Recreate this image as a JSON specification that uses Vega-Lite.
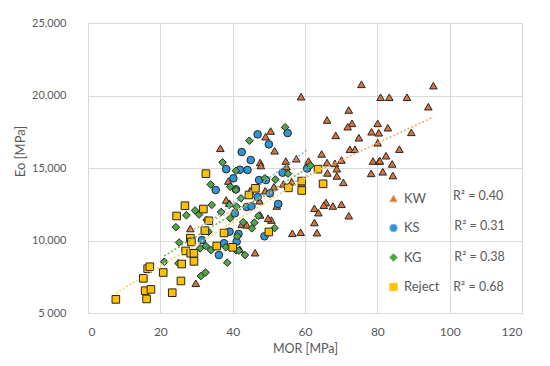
{
  "$schema": "https://vega.github.io/schema/vega-lite/v6.json",
  "width": 434,
  "height": 290,
  "autosize": {"type": "none"},
  "padding": {"left": 88, "top": 23, "right": 28, "bottom": 53},
  "background": "white",
  "config": {
    "font": "Lato",
    "view": {"stroke": "#D9D9D9"},
    "axis": {
      "gridColor": "#D9D9D9",
      "domain": false,
      "ticks": false,
      "labelColor": "#595959",
      "titleColor": "#595959",
      "titleFontWeight": "normal",
      "labelFont": "Lato",
      "titleFont": "Lato"
    }
  },
  "datasets": {
    "pts": [
      {"s":"KW","x":75.6,"y":20770},{"s":"KW","x":95.5,"y":20680},{"s":"KW","x":58.9,"y":19920},{"s":"KW","x":80.9,"y":19880},
      {"s":"KW","x":83.3,"y":19880},{"s":"KW","x":88.2,"y":19880},{"s":"KW","x":94.1,"y":19230},{"s":"KW","x":72.1,"y":19000},
      {"s":"KW","x":66.1,"y":18310},{"s":"KW","x":73.0,"y":18080},{"s":"KW","x":71.8,"y":17850},{"s":"KW","x":80.1,"y":18080},
      {"s":"KW","x":82.9,"y":17780},{"s":"KW","x":78.4,"y":17500},{"s":"KW","x":80.4,"y":17430},{"s":"KW","x":68.5,"y":17250},
      {"s":"KW","x":74.9,"y":17090},{"s":"KW","x":80.1,"y":16740},{"s":"KW","x":89.4,"y":17460},{"s":"KW","x":50.5,"y":17550},
      {"s":"KW","x":49.1,"y":17160},{"s":"KW","x":51.6,"y":16190},{"s":"KW","x":72.4,"y":16290},{"s":"KW","x":73.8,"y":16290},
      {"s":"KW","x":86.1,"y":16300},{"s":"KW","x":82.4,"y":15850},{"s":"KW","x":57.6,"y":15640},{"s":"KW","x":61.0,"y":15480},
      {"s":"KW","x":64.6,"y":15970},{"s":"KW","x":78.8,"y":15480},{"s":"KW","x":80.5,"y":15480},{"s":"KW","x":84.1,"y":15280},
      {"s":"KW","x":66.1,"y":15370},{"s":"KW","x":68.3,"y":15320},{"s":"KW","x":70.1,"y":15550},{"s":"KW","x":68.8,"y":14950},
      {"s":"KW","x":66.2,"y":14660},{"s":"KW","x":78.3,"y":14630},{"s":"KW","x":81.5,"y":14740},{"s":"KW","x":84.3,"y":14480},
      {"s":"KW","x":68.8,"y":14450},{"s":"KW","x":70.6,"y":14010},{"s":"KW","x":54.7,"y":15480},{"s":"KW","x":54.9,"y":15090},
      {"s":"KW","x":59.1,"y":13920},{"s":"KW","x":56.3,"y":14050},{"s":"KW","x":51.4,"y":13710},{"s":"KW","x":49.0,"y":13430},
      {"s":"KW","x":54.0,"y":13900},{"s":"KW","x":80.7,"y":15500},{"s":"KW","x":65.8,"y":12620},{"s":"KW","x":62.6,"y":12220},
      {"s":"KW","x":63.7,"y":11920},{"s":"KW","x":65.2,"y":12430},{"s":"KW","x":67.7,"y":12380},{"s":"KW","x":70.1,"y":12500},
      {"s":"KW","x":72.1,"y":11710},{"s":"KW","x":62.6,"y":11240},{"s":"KW","x":50.7,"y":11410},{"s":"KW","x":56.5,"y":10500},
      {"s":"KW","x":58.8,"y":10570},{"s":"KW","x":63.3,"y":10540},{"s":"KW","x":42.5,"y":11120},{"s":"KW","x":43.9,"y":11080},
      {"s":"KW","x":42.0,"y":9390},{"s":"KW","x":46.2,"y":9160},{"s":"KW","x":36.6,"y":16360},{"s":"KW","x":47.6,"y":15380},
      {"s":"KW","x":47.8,"y":15170},{"s":"KW","x":44.8,"y":13430},{"s":"KW","x":38.8,"y":14100},{"s":"KW","x":38.2,"y":12790},
      {"s":"KW","x":39.1,"y":12570},{"s":"KW","x":47.4,"y":12740},{"s":"KW","x":28.3,"y":10830},{"s":"KW","x":47.6,"y":11760},
      {"s":"KW","x":49.8,"y":11530},{"s":"KW","x":52.2,"y":12380},{"s":"KW","x":29.8,"y":7050},
      {"s":"KS","x":46.9,"y":17320},{"s":"KS","x":55.2,"y":17410},{"s":"KS","x":50.0,"y":16630},{"s":"KS","x":42.5,"y":16100},
      {"s":"KS","x":45.0,"y":15550},{"s":"KS","x":38.2,"y":14920},{"s":"KS","x":42.0,"y":14880},{"s":"KS","x":44.1,"y":14860},
      {"s":"KS","x":40.2,"y":14290},{"s":"KS","x":35.3,"y":13480},{"s":"KS","x":47.3,"y":14170},{"s":"KS","x":49.2,"y":14170},
      {"s":"KS","x":53.8,"y":14680},{"s":"KS","x":60.6,"y":14970},{"s":"KS","x":46.9,"y":13000},{"s":"KS","x":43.9,"y":12310},
      {"s":"KS","x":45.2,"y":12360},{"s":"KS","x":40.6,"y":11880},{"s":"KS","x":52.6,"y":12520},{"s":"KS","x":50.3,"y":13250},
      {"s":"KS","x":48.8,"y":10290},{"s":"KS","x":39.1,"y":10610},{"s":"KS","x":31.5,"y":10030},{"s":"KS","x":36.2,"y":9000},
      {"s":"KS","x":37.6,"y":9810},{"s":"KS","x":41.1,"y":9920},{"s":"KS","x":41.6,"y":10450},{"s":"KS","x":40.9,"y":13530},
      {"s":"KG","x":44.6,"y":16880},{"s":"KG","x":54.5,"y":17810},{"s":"KG","x":37.2,"y":15390},{"s":"KG","x":40.9,"y":14810},
      {"s":"KG","x":33.9,"y":13860},{"s":"KG","x":39.3,"y":13710},{"s":"KG","x":40.9,"y":13480},{"s":"KG","x":51.8,"y":14210},
      {"s":"KG","x":55.3,"y":14610},{"s":"KG","x":61.5,"y":15170},{"s":"KG","x":48.9,"y":14290},{"s":"KG","x":42.3,"y":12910},
      {"s":"KG","x":36.8,"y":11970},{"s":"KG","x":34.2,"y":12450},{"s":"KG","x":29.6,"y":12070},{"s":"KG","x":27.2,"y":11740},
      {"s":"KG","x":30.7,"y":11790},{"s":"KG","x":32.8,"y":11410},{"s":"KG","x":39.3,"y":11530},{"s":"KG","x":42.9,"y":11260},
      {"s":"KG","x":45.3,"y":10840},{"s":"KG","x":24.3,"y":10920},{"s":"KG","x":41.3,"y":10290},{"s":"KG","x":51.6,"y":10860},
      {"s":"KG","x":33.3,"y":10610},{"s":"KG","x":25.2,"y":9860},{"s":"KG","x":31.0,"y":9460},{"s":"KG","x":32.6,"y":9620},
      {"s":"KG","x":34.0,"y":9340},{"s":"KG","x":38.1,"y":9530},{"s":"KG","x":38.5,"y":8470},{"s":"KG","x":21.1,"y":8530},
      {"s":"KG","x":25.0,"y":8430},{"s":"KG","x":32.5,"y":7790},{"s":"KG","x":31.2,"y":7550},{"s":"KG","x":40.9,"y":9340},
      {"s":"KG","x":47.1,"y":11690},{"s":"KG","x":46.0,"y":11230},{"s":"KG","x":43.4,"y":9000},{"s":"KG","x":41.7,"y":9300},
      {"s":"KG","x":39.1,"y":12450},{"s":"KG","x":41.1,"y":12330},
      {"s":"Reject","x":7.7,"y":5940},{"s":"Reject","x":16.2,"y":5970},{"s":"Reject","x":15.8,"y":6540},{"s":"Reject","x":17.4,"y":6630},
      {"s":"Reject","x":15.3,"y":7390},{"s":"Reject","x":23.3,"y":6400},{"s":"Reject","x":25.7,"y":7210},{"s":"Reject","x":16.5,"y":8050},
      {"s":"Reject","x":17.1,"y":8190},{"s":"Reject","x":20.8,"y":7790},{"s":"Reject","x":25.9,"y":8380},{"s":"Reject","x":29.3,"y":8560},
      {"s":"Reject","x":27.0,"y":9280},{"s":"Reject","x":28.4,"y":9120},{"s":"Reject","x":29.3,"y":9120},{"s":"Reject","x":28.3,"y":10160},
      {"s":"Reject","x":28.6,"y":9900},{"s":"Reject","x":32.3,"y":10680},{"s":"Reject","x":33.4,"y":11360},{"s":"Reject","x":37.6,"y":10520},
      {"s":"Reject","x":24.5,"y":11690},{"s":"Reject","x":26.8,"y":12400},{"s":"Reject","x":31.9,"y":12170},{"s":"Reject","x":32.6,"y":14610},
      {"s":"Reject","x":40.0,"y":9530},{"s":"Reject","x":35.6,"y":9620},{"s":"Reject","x":44.5,"y":13140},{"s":"Reject","x":46.3,"y":13600},
      {"s":"Reject","x":50.0,"y":10590},{"s":"Reject","x":55.4,"y":13630},{"s":"Reject","x":59.1,"y":13450},{"s":"Reject","x":59.1,"y":14100},
      {"s":"Reject","x":63.6,"y":14920},{"s":"Reject","x":65.0,"y":13910}
    ],
    "r2": [
      {"s":"KW","t":"R² = 0.40","x":100.9,"y":13100},
      {"s":"KS","t":"R² = 0.31","x":101.3,"y":11000},
      {"s":"KG","t":"R² = 0.38","x":101.3,"y":8850},
      {"s":"Reject","t":"R² = 0.68","x":101.0,"y":6800}
    ]
  },
  "layer": [
    {
      "data": {"name": "pts"},
      "mark": {"type": "point", "filled": true, "stroke": "#262626", "strokeWidth": 1, "size": 58, "opacity": 1},
      "encoding": {
        "x": {"field": "x", "type": "quantitative",
          "scale": {"domain": [0, 120], "nice": false},
          "axis": {"values": [0, 20, 40, 60, 80, 100, 120], "title": "MOR [MPa]", "labelFontSize": 12, "titleFontSize": 12.5, "labelPadding": 13, "titlePadding": 5}},
        "y": {"field": "y", "type": "quantitative",
          "scale": {"domain": [5000, 25000], "nice": false, "zero": false},
          "axis": {"values": [5000, 10000, 15000, 20000, 25000], "title": "Eo [MPa]", "labelFontSize": 11, "titleFontSize": 13,
            "labelPadding": 22, "labelExpr": "datum.value == 5000 ? '5 000' : format(datum.value, ',')", "titleX": -61, "titleY": 128}},
        "fill": {"field": "s", "type": "nominal", "title": null,
          "scale": {"domain": ["KW", "KS", "KG", "Reject"], "range": ["#D9733A", "#2E96D6", "#4EA646", "#FFC000"]},
          "legend": {"orient": "none", "legendX": 299, "legendY": 169, "padding": 0, "labelFontSize": 13, "labelColor": "#595959",
            "labelFont": "Lato", "rowPadding": 15.5, "labelOffset": 4, "symbolSize": 58, "symbolStrokeColor": "#262626", "symbolStrokeWidth": 1,
            "encode": {"symbols": {"enter": {"stroke": {"value": "#262626"}, "strokeWidth": {"value": 1}}, "update": {"stroke": {"value": "#262626"}, "strokeWidth": {"value": 1}}}}}},
        "shape": {"field": "s", "type": "nominal", "title": null,
          "scale": {"domain": ["KW", "KS", "KG", "Reject"], "range": ["triangle-up", "circle", "diamond", "square"]},
          "legend": {"orient": "none", "legendX": 299, "legendY": 169, "padding": 0, "labelFontSize": 13, "labelColor": "#595959",
            "labelFont": "Lato", "rowPadding": 15.5, "labelOffset": 4, "symbolSize": 58, "symbolStrokeColor": "#262626", "symbolStrokeWidth": 1,
            "encode": {"symbols": {"enter": {"stroke": {"value": "#262626"}, "strokeWidth": {"value": 1}}, "update": {"stroke": {"value": "#262626"}, "strokeWidth": {"value": 1}}}}}}
      }
    },
    {
      "data": {"name": "pts"},
      "transform": [{"regression": "y", "on": "x", "groupby": ["s"]}],
      "mark": {"type": "line", "strokeDash": [2, 2], "strokeWidth": 1.5},
      "encoding": {
        "x": {"field": "x", "type": "quantitative"},
        "y": {"field": "y", "type": "quantitative"},
        "stroke": {"field": "s", "type": "nominal", "legend": null,
          "scale": {"domain": ["KW", "KS", "KG", "Reject"], "range": ["#F4A46A", "#7FB6E3", "#6DB352", "#FFD24D"]}}
      }
    },
    {
      "data": {"name": "r2"},
      "mark": {"type": "text", "align": "left", "baseline": "middle", "fontSize": 12.5, "color": "#595959", "font": "Lato"},
      "encoding": {
        "x": {"field": "x", "type": "quantitative"},
        "y": {"field": "y", "type": "quantitative"},
        "text": {"field": "t"}
      }
    }
  ]
}
